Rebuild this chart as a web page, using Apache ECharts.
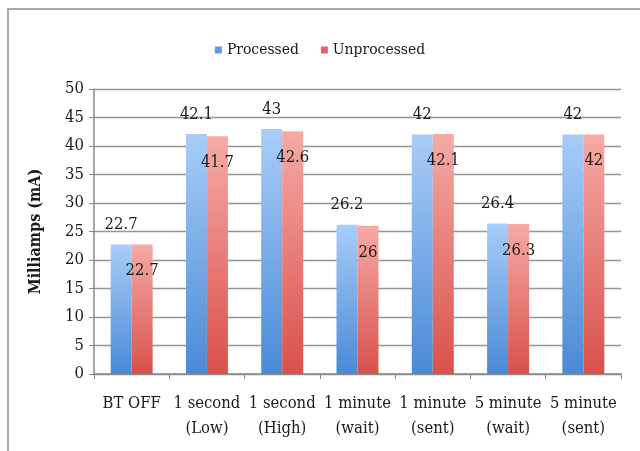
<!DOCTYPE html>
<html><head><meta charset="utf-8">
<script src="https://cdn.jsdelivr.net/npm/echarts@6/dist/echarts.min.js"></script>
<style>html,body{margin:0;padding:0;background:#fff;overflow:hidden}#c{width:640px;height:451px;position:relative}
#frame{position:absolute;left:7px;top:8px;width:700px;height:500px;border-left:2px solid #aaa;border-top:2px solid #aaa;pointer-events:none}</style>
</head><body><div id="c"></div><div id="frame"></div>
<script>
const categories = ['BT OFF','1 second\n(Low)','1 second\n(High)','1 minute\n(wait)','1 minute\n(sent)','5 minute\n(wait)','5 minute\n(sent)'];
const processed = [22.7, 42.1, 43, 26.2, 42, 26.4, 42];
const unprocessed = [22.7, 41.7, 42.6, 26, 42.1, 26.3, 42];
const seriesNames = ['Processed','Unprocessed'];

const FONT = '"DejaVu Serif Condensed","Liberation Serif",serif';
const TXT = '#1a1a1a';
const chart = echarts.init(document.getElementById('c'), null, {renderer:'canvas'});
function grad(top, bottom){return new echarts.graphic.LinearGradient(0,0,0,1,[{offset:0,color:top},{offset:1,color:bottom}]);}
chart.setOption({
  animation:false,
  textStyle:{fontFamily:FONT, color:TXT},
  legend:{top:37, left:'center', itemWidth:7, itemHeight:7, itemGap:22,
    textStyle:{fontFamily:FONT, fontSize:15.5, color:TXT},
    data:[{name:seriesNames[0], icon:'rect', itemStyle:{color:'#5b9be0'}},{name:seriesNames[1], icon:'rect', itemStyle:{color:'#e06660'}}]},
  grid:{left:94, right:19, top:89, bottom:77},
  xAxis:{type:'category', data:categories,
    axisLine:{lineStyle:{color:'#888', width:1.5}},
    axisTick:{show:true, length:5, lineStyle:{color:'#888'}},
    axisLabel:{fontFamily:FONT, fontSize:16.5, color:TXT, margin:17, lineHeight:25, interval:0}},
  yAxis:{type:'value', min:0, max:50, interval:5,
    name:'Milliamps (mA)', nameLocation:'middle', nameGap:50, nameRotate:90,
    nameTextStyle:{fontFamily:FONT, fontSize:16, fontWeight:'bold', color:TXT},
    axisLine:{show:true, lineStyle:{color:'#888', width:1.5}},
    axisTick:{show:true, length:5, lineStyle:{color:'#888'}},
    axisLabel:{fontFamily:FONT, fontSize:16.5, color:TXT, margin:10},
    splitLine:{lineStyle:{color:'#959595', width:1.3}}},
  series:[
    {name:seriesNames[0], type:'bar', data:processed, barWidth:21, barGap:'0%',
     itemStyle:{color:grad('#a8cdf8','#4a8ad6')},
     label:{show:true, position:'top', distance:11, fontFamily:FONT, fontSize:16.5, color:TXT}},
    {name:seriesNames[1], type:'bar', data:unprocessed, barWidth:21, barGap:'0%',
     itemStyle:{color:grad('#f6aaa6','#d9514b')},
     label:{show:true, position:'insideTop', distance:18, fontFamily:FONT, fontSize:16.5, color:TXT}}
  ]
});
</script></body></html>
